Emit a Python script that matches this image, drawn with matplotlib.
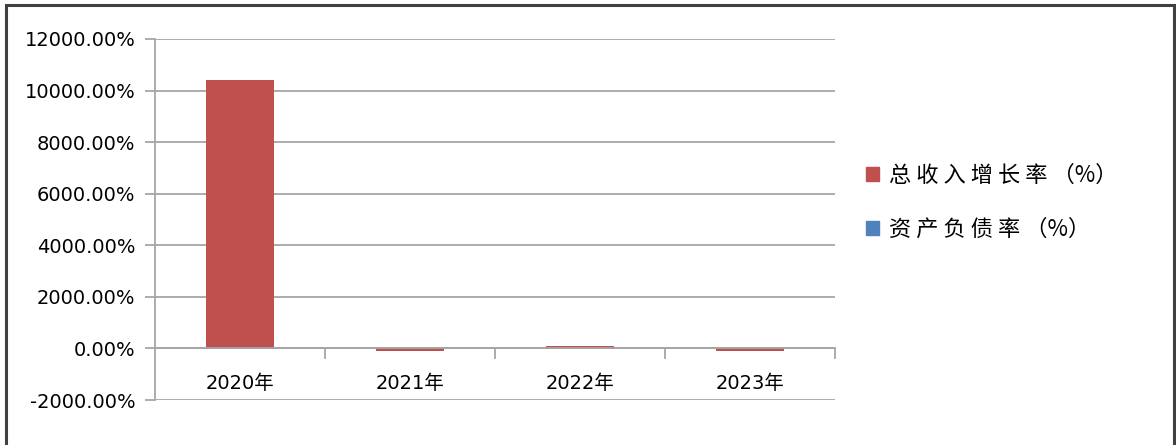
import matplotlib.pyplot as plt
from matplotlib.patches import Rectangle

plt.rcParams['font.family'] = ['Noto Sans CJK SC', 'DejaVu Sans']

# ==========================
# DADOS
# ==========================
anos = ["2020年", "2021年", "2022年", "2023年"]
receita_cresc = [10420.0, -110.0, 100.0, -100.0]   # 总收入增长率（%）
series_nomes = ["总 收 入 增 长 率 （%）", "资 产 负 债 率 （%）"]
y_ticks = [-2000, 0, 2000, 4000, 6000, 8000, 10000, 12000]

COR_VERMELHO = "#C0504D"
COR_AZUL = "#4F81BD"
COR_GRADE = "#A6A6A6"
FONTE_NUM = ['DejaVu Sans', 'Noto Sans CJK SC']

fig = plt.figure(figsize=(11.76, 4.45), dpi=100)

# moldura externa
fig.patches.append(Rectangle((6 / 1176, -0.05), 1168 / 1176, 1.05 - 5 / 445,
                             transform=fig.transFigure, fill=False,
                             edgecolor="#404040", linewidth=2.2))

ax = fig.add_axes([155 / 1176, 1 - 400 / 445, 680 / 1176, 361 / 445])

x = list(range(len(anos)))
ax.bar(x, receita_cresc, width=0.4, color=COR_VERMELHO, zorder=3)

ax.set_xlim(-0.5, len(anos) - 0.5)
ax.set_ylim(-2000, 12000)
ax.set_yticks(y_ticks)
ax.set_yticklabels([f"{v:.2f}%" for v in y_ticks], fontsize=14,
                   family=FONTE_NUM)
ax.yaxis.grid(True, color=COR_GRADE, linewidth=1.3, zorder=0)
ax.tick_params(axis="y", length=7, width=1.3, color=COR_GRADE, pad=7)

for s in ["top", "right", "bottom"]:
    ax.spines[s].set_visible(False)
ax.spines["left"].set_color(COR_GRADE)
ax.spines["left"].set_linewidth(1.3)

# eixo x na linha do zero
ax.set_xticks([])
ax.axhline(0, color=COR_GRADE, linewidth=1.3, zorder=4)
for b in [i + 0.5 for i in x]:
    ax.plot([b, b], [0, -390], color=COR_GRADE, linewidth=1.3,
            clip_on=False, zorder=4)
for i, nome in zip(x, anos):
    ax.text(i, -1350, nome, ha="center", va="center", fontsize=14,
            family=FONTE_NUM)

# legenda
handles = [Rectangle((0, 0), 1, 1, color=COR_VERMELHO),
           Rectangle((0, 0), 1, 1, color=COR_AZUL)]
fig.legend(handles, series_nomes, loc="center left",
           bbox_to_anchor=(846 / 1176, 1 - 202 / 445), frameon=False,
           fontsize=16, handlelength=0.6, handleheight=0.6,
           handletextpad=0.45, labelspacing=1.4)

plt.savefig("out.png", dpi=100)
